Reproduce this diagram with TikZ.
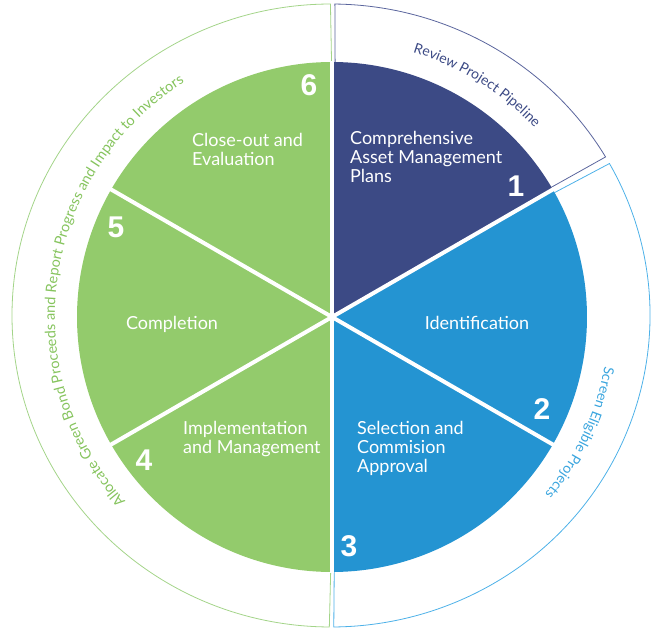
\documentclass[tikz,border=0pt]{standalone}
\usepackage{fontspec}
\setmainfont{Lato}
\newfontfamily\numfont{Liberation Sans}
\usepackage{tikz}
\usetikzlibrary{calc,decorations.text}

\definecolor{navysec}{HTML}{3C4A85}
\definecolor{bluesec}{HTML}{2494D2}
\definecolor{greensec}{HTML}{93CB6C}
\definecolor{navyring}{HTML}{5A659D}
\definecolor{bluering}{HTML}{4DB1E8}
\definecolor{greenring}{HTML}{A3D489}
\definecolor{greentext}{HTML}{86C45E}
\definecolor{bluetext}{HTML}{3AA5DE}

\begin{document}
\begin{tikzpicture}[x=1pt,y=1pt,
  steptext/.style={text=white,font=\fontsize{18}{19}\selectfont,align=left,inner sep=0pt},
  stepnum/.style={text=white,font=\numfont\bfseries\fontsize{30}{30}\selectfont,inner sep=0pt},
  ringline/.style={line width=0.8pt},
  divider/.style={white,line width=4pt},
  ringtext/.style={decorate,decoration={text along path,text align=center,text={#1}}}
]
\useasboundingbox (-332,-312) rectangle (322,317);
\coordinate (O) at (0,0);
\coordinate (R) at (-1,1.5);

% outer ring
\draw[ringline,greenring] (90.1:255) -- ($(R)+(90.1:319 and 311.5)$)
  arc[start angle=90.1,end angle=269.7,x radius=319,y radius=311.5] -- (269.7:255);
\draw[ringline,navyring] (89.3:255) -- ($(R)+(89.3:319 and 311.5)$)
  arc[start angle=89.3,end angle=30.6,x radius=319,y radius=311.5] -- (30.6:255);
\draw[ringline,bluering] (29.2:255) -- ($(R)+(29.2:319 and 311.5)$)
  arc[start angle=29.2,end angle=-89.5,x radius=319,y radius=311.5] -- (-89.5:255);

\path[ringtext={|\fontsize{14}{14}\selectfont\color{navysec}|Review Project Pipeline}]
  (88:277) arc[start angle=88,end angle=28,radius=277];
\path[ringtext={|\fontsize{14}{14}\selectfont\color{bluetext}|Screen Eligible Projects}]
  (0:277) arc[start angle=0,end angle=-50,radius=277];
\path[ringtext={|\fontsize{14.5}{14.5}\selectfont\color{greentext}|Allocate Green Bond Proceeds and Report Progress and Impact to Investors}]
  (232:277) arc[start angle=232,end angle=112,radius=277];

% pie
\foreach \a/\c in {30/navysec,-30/bluesec,-90/bluesec,90/greensec,150/greensec,210/greensec}
  \fill[\c] (O) -- (\a:255) arc[start angle=\a,delta angle=60,radius=255] -- cycle;
\foreach \a in {30,90,...,330}
  \draw[divider] (O) -- (\a:256);

\node[steptext,anchor=west] (plans) at (18,160) {Comprehensive\\Asset Management\\Plans};
\node[steptext] (ident) at (145,-6) {Identification};
\node[steptext,anchor=west] (select) at (25,-131) {Selection and\\Commision\\Approval};
\node[steptext,anchor=west] (implem) at (-149,-122) {Implementation\\and Management};
\node[steptext] (compl) at (-160,-7) {Completion};
\node[steptext,anchor=west] (close) at (-140,168) {Close-out and\\Evaluation};

\node[stepnum] (n1) at (184,131) {1};
\node[stepnum] (n2) at (210,-92) {2};
\node[stepnum] (n3) at (17,-229) {3};
\node[stepnum] (n4) at (-188,-143) {4};
\node[stepnum] (n5) at (-216,90) {5};
\node[stepnum] (n6) at (-23,232) {6};
\end{tikzpicture}
\end{document}
